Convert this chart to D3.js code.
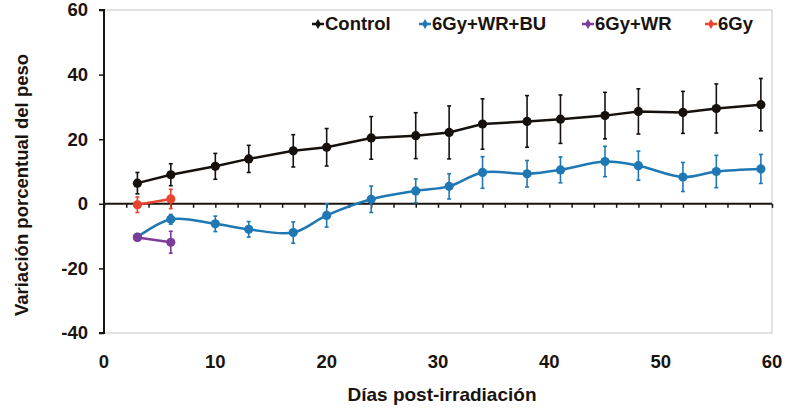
<!DOCTYPE html>
<html>
<head>
<meta charset="utf-8">
<script src="https://cdn.jsdelivr.net/npm/d3@7"></script>
<style>
  html, body { margin: 0; padding: 0; background: #fff; }
  svg text { font-family: "Liberation Sans", Arial, sans-serif; font-weight: bold; fill: #1a1410; }
</style>
</head>
<body>
<div id="chart"></div>
<script>
// days after irradiation
const days = [3, 6, 10, 13, 17, 20, 24, 28, 31, 34, 38, 41, 45, 48, 52, 55, 59];
const controlVals = [6.4, 9.0, 11.6, 13.9, 16.4, 17.5, 20.4, 21.1, 22.1, 24.7, 25.5, 26.2, 27.3, 28.6, 28.3, 29.5, 30.7];
const controlErr  = [3.3, 3.4, 4.0, 4.2, 5.0, 5.8, 6.6, 7.1, 8.2, 7.8, 8.0, 7.5, 7.2, 7.0, 6.5, 7.6, 8.1];
const buVals = [-10.3, -4.8, -6.2, -7.9, -8.9, -3.6, 1.4, 4.0, 5.4, 9.7, 9.3, 10.5, 13.1, 11.8, 8.3, 10.0, 10.8];
const buErr  = [1.0, 1.5, 2.4, 2.4, 3.3, 3.6, 4.1, 3.7, 3.9, 4.9, 4.1, 4.0, 4.7, 4.5, 4.5, 5.0, 4.5];
const wrDays = [3, 6];
const wrVals = [-10.4, -11.9];
const wrErr  = [1.0, 3.4];
const gyDays = [3, 6];
const gyVals = [-0.3, 1.5];
const gyErr  = [2.4, 3.0];

const seriesNames = ['Control', '6Gy+WR+BU', '6Gy+WR', '6Gy'];
const xTicks = [0, 10, 20, 30, 40, 50, 60];
const yTicks = [-40, -20, 0, 20, 40, 60];

const width = 800, height = 413;
const plotL = 104, plotR = 772, plotT = 10, plotB = 333;

const svg = d3.select('#chart').append('svg')
  .attr('width', width)
  .attr('height', height);

const x = d3.scaleLinear().domain([0, 60]).range([plotL, plotR]);
const y = d3.scaleLinear().domain([-40, 60]).range([plotB, plotT]);

// plot area frame (light grey)
svg.append('rect')
  .attr('x', plotL).attr('y', plotT)
  .attr('width', plotR - plotL).attr('height', plotB - plotT)
  .attr('fill', 'none')
  .attr('stroke', '#c8c4c0')
  .attr('stroke-width', 1);

// y axis
const yAxis = d3.axisLeft(y).tickValues(yTicks).tickSize(5).tickPadding(11).tickFormat(d => String(d));
const gy = svg.append('g').attr('transform', `translate(${plotL},0)`).call(yAxis);
gy.select('.domain').attr('stroke', '#1a1410').attr('stroke-width', 2).attr('d', `M-5,${plotT}H0V${plotB}H-5`);
gy.selectAll('.tick line').attr('stroke', '#1a1410').attr('stroke-width', 1.5);
gy.selectAll('.tick text').attr('font-size', 18.5).style('font-family', '"Liberation Sans", Arial, sans-serif').attr('font-weight', 'bold').attr('fill', '#1a1410');

// x axis crossing at zero, minor ticks every 2 days
const xAxis = d3.axisBottom(x).tickValues(d3.range(0, 61, 2)).tickSize(4).tickFormat('');
const gx = svg.append('g').attr('transform', `translate(0,${y(0)})`).call(xAxis);
gx.select('.domain').attr('stroke', '#1a1410').attr('stroke-width', 2).attr('d', `M${plotL},0H${plotR}`);
gx.selectAll('.tick line').attr('stroke', '#1a1410').attr('stroke-width', 1.5);

// x tick labels at the bottom of the plot
svg.append('g').selectAll('text')
  .data(xTicks)
  .enter()
  .append('text')
  .attr('x', d => x(d))
  .attr('y', 368)
  .attr('text-anchor', 'middle')
  .attr('font-size', 18.5)
  .text(d => d);

// axis titles
svg.append('text')
  .attr('x', 442).attr('y', 401)
  .attr('text-anchor', 'middle')
  .attr('font-size', 19)
  .text('Días post-irradiación');

svg.append('text')
  .attr('transform', 'translate(28,185) rotate(-90)')
  .attr('text-anchor', 'middle')
  .attr('font-size', 18.5)
  .text('Variación porcentual del peso');

const series = [
  { name: seriesNames[0], xs: days, vals: controlVals, err: controlErr, color: '#17110d', curve: d3.curveLinear },
  { name: seriesNames[1], xs: days, vals: buVals, err: buErr, color: '#1f78b4', curve: d3.curveCatmullRom },
  { name: seriesNames[2], xs: wrDays, vals: wrVals, err: wrErr, color: '#7d3c98', curve: d3.curveLinear },
  { name: seriesNames[3], xs: gyDays, vals: gyVals, err: gyErr, color: '#e8452f', curve: d3.curveLinear }
];

series.forEach(s => {
  const pts = s.xs.map((d, i) => ({ day: d, v: s.vals[i], e: s.err[i] }));
  const g = svg.append('g');

  // error bars
  const eb = g.selectAll('.err').data(pts).enter().append('g');
  eb.append('line')
    .attr('x1', d => x(d.day)).attr('x2', d => x(d.day))
    .attr('y1', d => y(d.v - d.e)).attr('y2', d => y(d.v + d.e))
    .attr('stroke', s.color).attr('stroke-width', 1.6);
  [-1, 1].forEach(sign => {
    eb.append('line')
      .attr('x1', d => x(d.day) - 2).attr('x2', d => x(d.day) + 2)
      .attr('y1', d => y(d.v + sign * d.e)).attr('y2', d => y(d.v + sign * d.e))
      .attr('stroke', s.color).attr('stroke-width', 1.6);
  });

  const line = d3.line().x(d => x(d.day)).y(d => y(d.v)).curve(s.curve);
  g.append('path')
    .datum(pts)
    .attr('d', line)
    .attr('fill', 'none')
    .attr('stroke', s.color)
    .attr('stroke-width', 2.5);

  g.selectAll('circle').data(pts).enter().append('circle')
    .attr('cx', d => x(d.day)).attr('cy', d => y(d.v))
    .attr('r', 4.6)
    .attr('fill', s.color);
});

// legend
const legendX = [318, 425, 588, 711];
const legend = svg.append('g');
series.forEach((s, i) => {
  const lx = legendX[i];
  legend.append('line')
    .attr('x1', lx - 6).attr('x2', lx + 6)
    .attr('y1', 24).attr('y2', 24)
    .attr('stroke', s.color).attr('stroke-width', 2.5);
  legend.append('path')
    .attr('d', d3.symbol(d3.symbolDiamond, 30)())
    .attr('transform', `translate(${lx},24)`)
    .attr('fill', s.color);
  legend.append('text')
    .attr('x', lx + 7).attr('y', 30)
    .attr('font-size', 18.5)
    .text(s.name);
});
</script>
</body>
</html>
